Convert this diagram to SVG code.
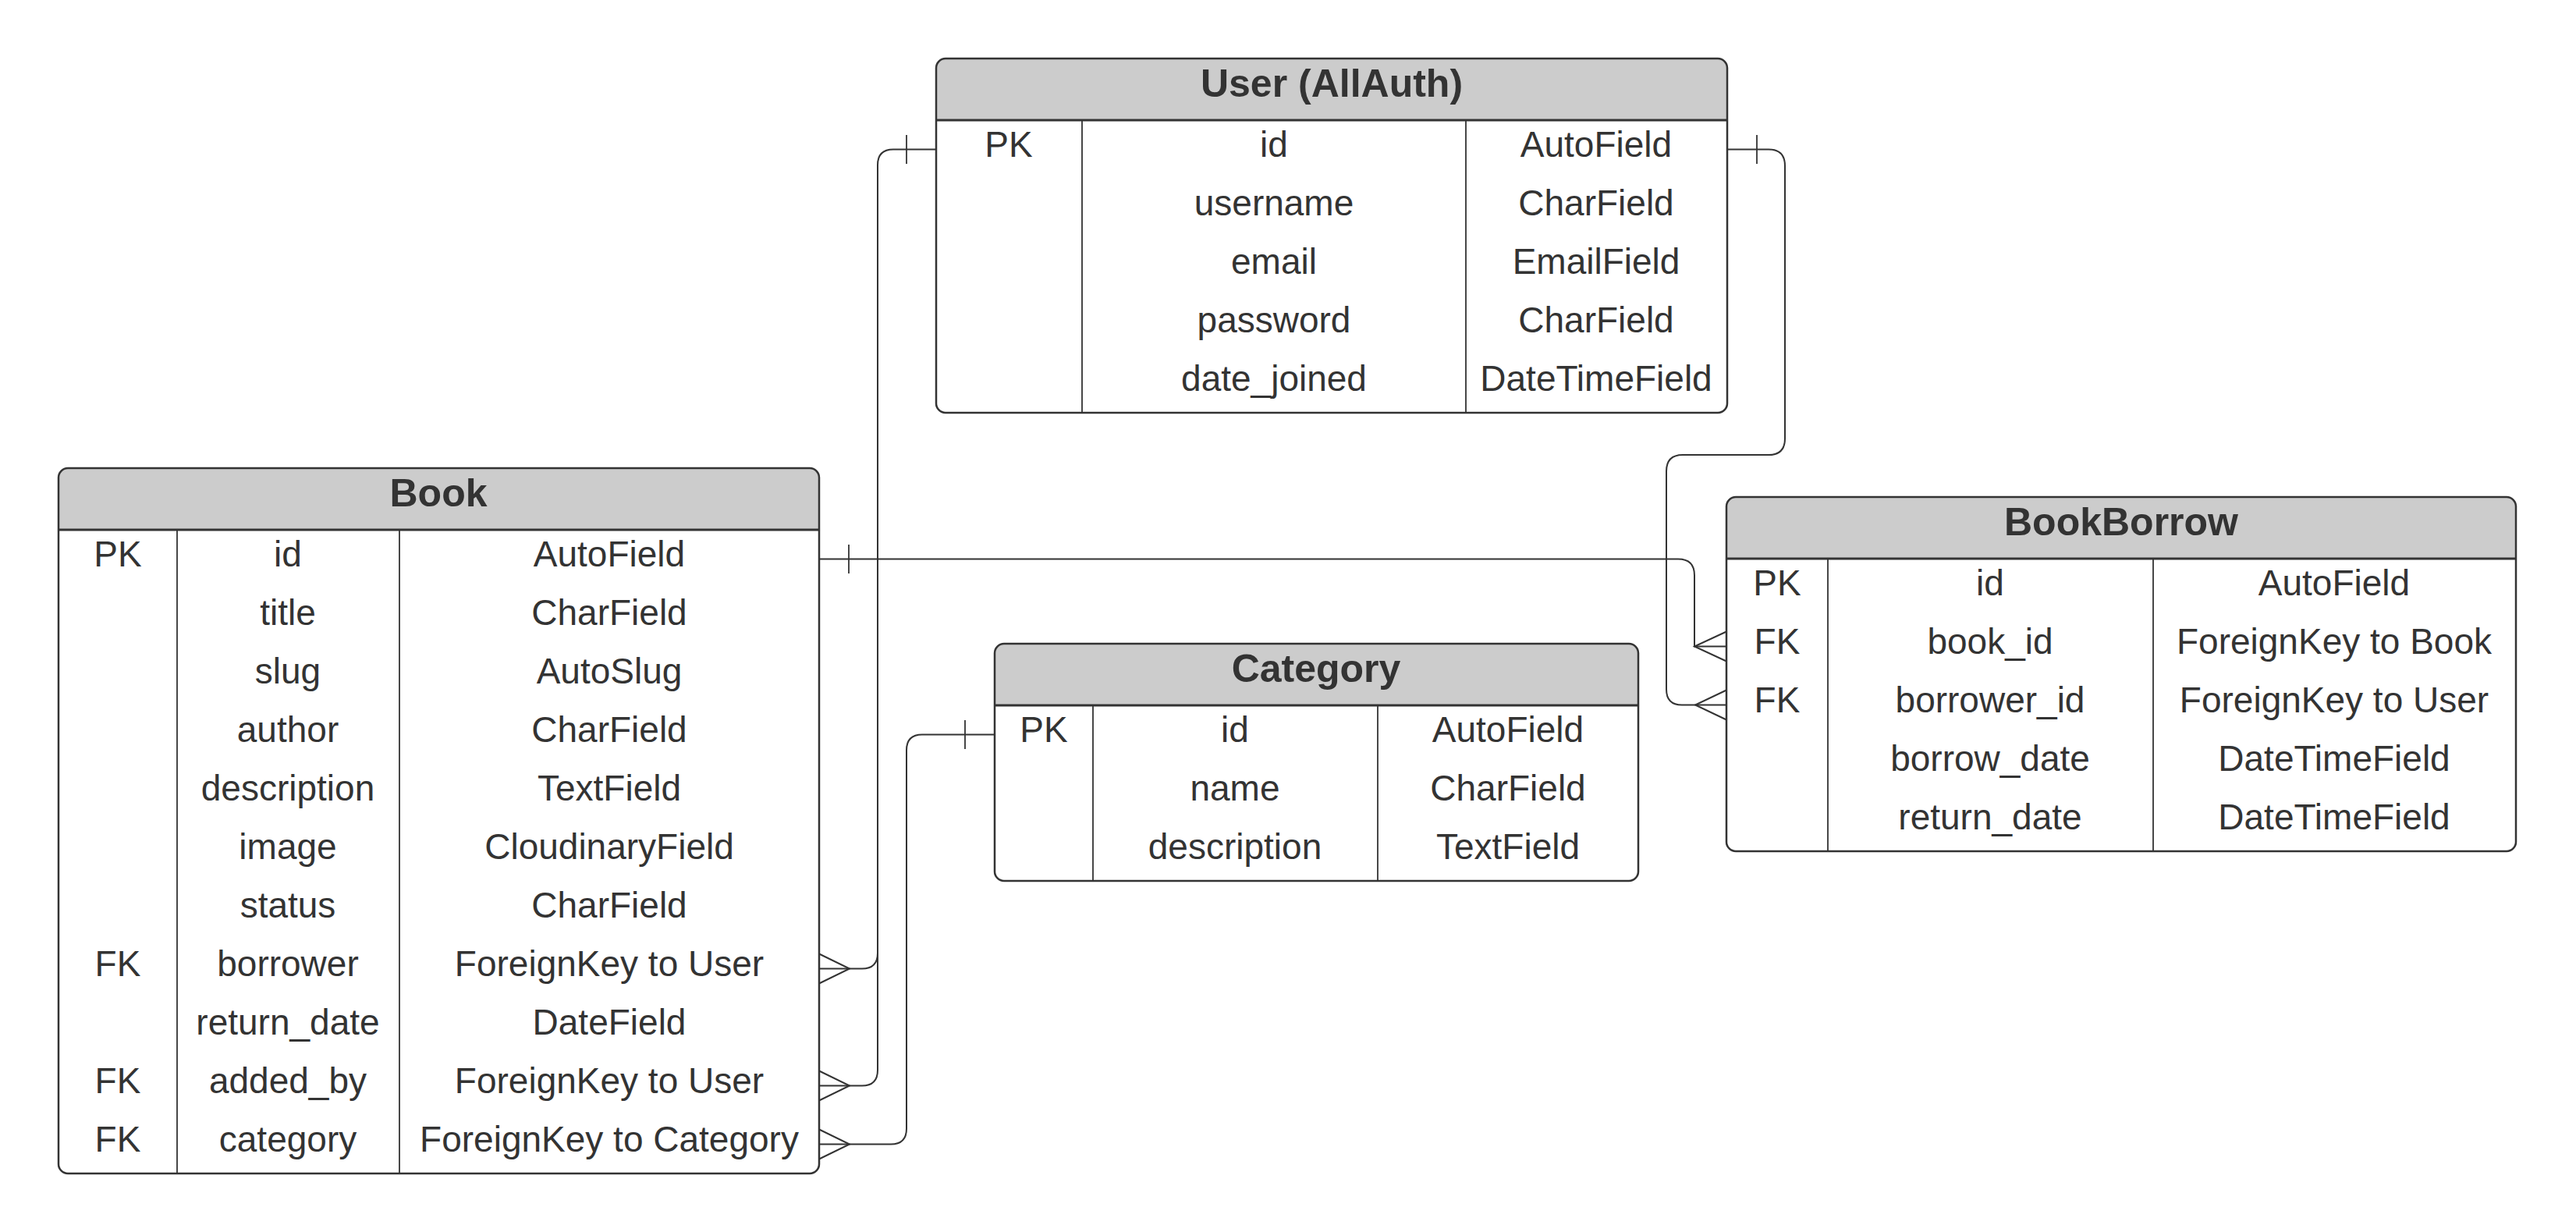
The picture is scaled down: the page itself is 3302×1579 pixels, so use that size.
<svg xmlns="http://www.w3.org/2000/svg" width="3302" height="1579" viewBox="0 0 3302 1579">
<style>
.bg{fill:#ffffff}
.hdr{fill:#cccccc}
.outline{fill:none;stroke:#333333;stroke-width:2.5}
.sep{stroke:#333333;stroke-width:3}
.div{stroke:#333333;stroke-width:1.8}
.title{font-family:"Liberation Sans",Arial,sans-serif;font-weight:bold;font-size:50px;fill:#333333;text-anchor:middle}
.t{font-family:"Liberation Sans",Arial,sans-serif;font-size:46px;fill:#333333;text-anchor:middle}
.conn path,.conn line{fill:none;stroke:#333333;stroke-width:2}
.conn .bar{stroke-width:1.8}
</style>
<rect class="bg" x="0" y="0" width="3302" height="1579"/>

<g id="connectors" class="conn">
  <path d="M1200,191.5 H1145 Q1125,191.5 1125,211.5 V1221.5 Q1125,1241.5 1105,1241.5 H1050"/>
  <path d="M1125,1221.5 V1371.5 Q1125,1391.5 1105,1391.5 H1050"/>
  <line class="bar" x1="1162" y1="173" x2="1162" y2="210"/>
  <path d="M1050,1222.5 L1089,1241.5 L1050,1260.5"/>
  <path d="M1050,1372.5 L1089,1391.5 L1050,1410.5"/>
  <path d="M1275,941.5 H1182 Q1162,941.5 1162,961.5 V1446.5 Q1162,1466.5 1142,1466.5 H1050"/>
  <line class="bar" x1="1237" y1="923" x2="1237" y2="960"/>
  <path d="M1050,1447.5 L1089,1466.5 L1050,1485.5"/>
  <path d="M1050,716.5 H2151 Q2172,716.5 2172,737.5 V828.5 H2213"/>
  <line class="bar" x1="1088" y1="698" x2="1088" y2="735"/>
  <path d="M2213,809.5 L2172,828.5 L2213,847.5"/>
  <path d="M2214,191.5 H2267 Q2288,191.5 2288,212.5 V562 Q2288,583 2267,583 H2157 Q2136,583 2136,604 V883.5 Q2136,903.5 2156,903.5 H2213"/>
  <line class="bar" x1="2252" y1="173" x2="2252" y2="210"/>
  <path d="M2213,884.5 L2173,903.5 L2213,922.5"/>
</g>

<g id="user">
  <rect class="bg" x="1200" y="75" width="1014" height="454" rx="12"/>
  <path class="hdr" d="M1200,154 V87 Q1200,75 1212,75 H2202 Q2214,75 2214,87 V154 Z"/>
  <line class="sep" x1="1200" y1="154" x2="2214" y2="154"/>
  <line class="div" x1="1387" y1="154" x2="1387" y2="529"/>
  <line class="div" x1="1879" y1="154" x2="1879" y2="529"/>
  <rect class="outline" x="1200" y="75" width="1014" height="454" rx="12"/>
  <text class="title" x="1707" y="124">User (AllAuth)</text>
  <text class="t" x="1293" y="201">PK</text>
  <text class="t" x="1633" y="201">id</text>
  <text class="t" x="2046" y="201">AutoField</text>
  <text class="t" x="1633" y="276">username</text>
  <text class="t" x="2046" y="276">CharField</text>
  <text class="t" x="1633" y="351">email</text>
  <text class="t" x="2046" y="351">EmailField</text>
  <text class="t" x="1633" y="426">password</text>
  <text class="t" x="2046" y="426">CharField</text>
  <text class="t" x="1633" y="501">date_joined</text>
  <text class="t" x="2046" y="501">DateTimeField</text>
</g>

<g id="book">
  <rect class="bg" x="75" y="600" width="975" height="904" rx="12"/>
  <path class="hdr" d="M75,679 V612 Q75,600 87,600 H1038 Q1050,600 1050,612 V679 Z"/>
  <line class="sep" x1="75" y1="679" x2="1050" y2="679"/>
  <line class="div" x1="227" y1="679" x2="227" y2="1504"/>
  <line class="div" x1="512" y1="679" x2="512" y2="1504"/>
  <rect class="outline" x="75" y="600" width="975" height="904" rx="12"/>
  <text class="title" x="562" y="649">Book</text>
  <text class="t" x="151" y="726">PK</text>
  <text class="t" x="369" y="726">id</text>
  <text class="t" x="781" y="726">AutoField</text>
  <text class="t" x="369" y="801">title</text>
  <text class="t" x="781" y="801">CharField</text>
  <text class="t" x="369" y="876">slug</text>
  <text class="t" x="781" y="876">AutoSlug</text>
  <text class="t" x="369" y="951">author</text>
  <text class="t" x="781" y="951">CharField</text>
  <text class="t" x="369" y="1026">description</text>
  <text class="t" x="781" y="1026">TextField</text>
  <text class="t" x="369" y="1101">image</text>
  <text class="t" x="781" y="1101">CloudinaryField</text>
  <text class="t" x="369" y="1176">status</text>
  <text class="t" x="781" y="1176">CharField</text>
  <text class="t" x="151" y="1251">FK</text>
  <text class="t" x="369" y="1251">borrower</text>
  <text class="t" x="781" y="1251">ForeignKey to User</text>
  <text class="t" x="369" y="1326">return_date</text>
  <text class="t" x="781" y="1326">DateField</text>
  <text class="t" x="151" y="1401">FK</text>
  <text class="t" x="369" y="1401">added_by</text>
  <text class="t" x="781" y="1401">ForeignKey to User</text>
  <text class="t" x="151" y="1476">FK</text>
  <text class="t" x="369" y="1476">category</text>
  <text class="t" x="781" y="1476">ForeignKey to Category</text>
</g>

<g id="category">
  <rect class="bg" x="1275" y="825" width="825" height="304" rx="12"/>
  <path class="hdr" d="M1275,904 V837 Q1275,825 1287,825 H2088 Q2100,825 2100,837 V904 Z"/>
  <line class="sep" x1="1275" y1="904" x2="2100" y2="904"/>
  <line class="div" x1="1401" y1="904" x2="1401" y2="1129"/>
  <line class="div" x1="1766" y1="904" x2="1766" y2="1129"/>
  <rect class="outline" x="1275" y="825" width="825" height="304" rx="12"/>
  <text class="title" x="1687" y="874">Category</text>
  <text class="t" x="1338" y="951">PK</text>
  <text class="t" x="1583" y="951">id</text>
  <text class="t" x="1933" y="951">AutoField</text>
  <text class="t" x="1583" y="1026">name</text>
  <text class="t" x="1933" y="1026">CharField</text>
  <text class="t" x="1583" y="1101">description</text>
  <text class="t" x="1933" y="1101">TextField</text>
</g>

<g id="bookborrow">
  <rect class="bg" x="2213" y="637" width="1012" height="454" rx="12"/>
  <path class="hdr" d="M2213,716 V649 Q2213,637 2225,637 H3213 Q3225,637 3225,649 V716 Z"/>
  <line class="sep" x1="2213" y1="716" x2="3225" y2="716"/>
  <line class="div" x1="2343" y1="716" x2="2343" y2="1091"/>
  <line class="div" x1="2760" y1="716" x2="2760" y2="1091"/>
  <rect class="outline" x="2213" y="637" width="1012" height="454" rx="12"/>
  <text class="title" x="2719" y="686">BookBorrow</text>
  <text class="t" x="2278" y="763">PK</text>
  <text class="t" x="2551" y="763">id</text>
  <text class="t" x="2992" y="763">AutoField</text>
  <text class="t" x="2278" y="838">FK</text>
  <text class="t" x="2551" y="838">book_id</text>
  <text class="t" x="2992" y="838">ForeignKey to Book</text>
  <text class="t" x="2278" y="913">FK</text>
  <text class="t" x="2551" y="913">borrower_id</text>
  <text class="t" x="2992" y="913">ForeignKey to User</text>
  <text class="t" x="2551" y="988">borrow_date</text>
  <text class="t" x="2992" y="988">DateTimeField</text>
  <text class="t" x="2551" y="1063">return_date</text>
  <text class="t" x="2992" y="1063">DateTimeField</text>
</g>
</svg>
